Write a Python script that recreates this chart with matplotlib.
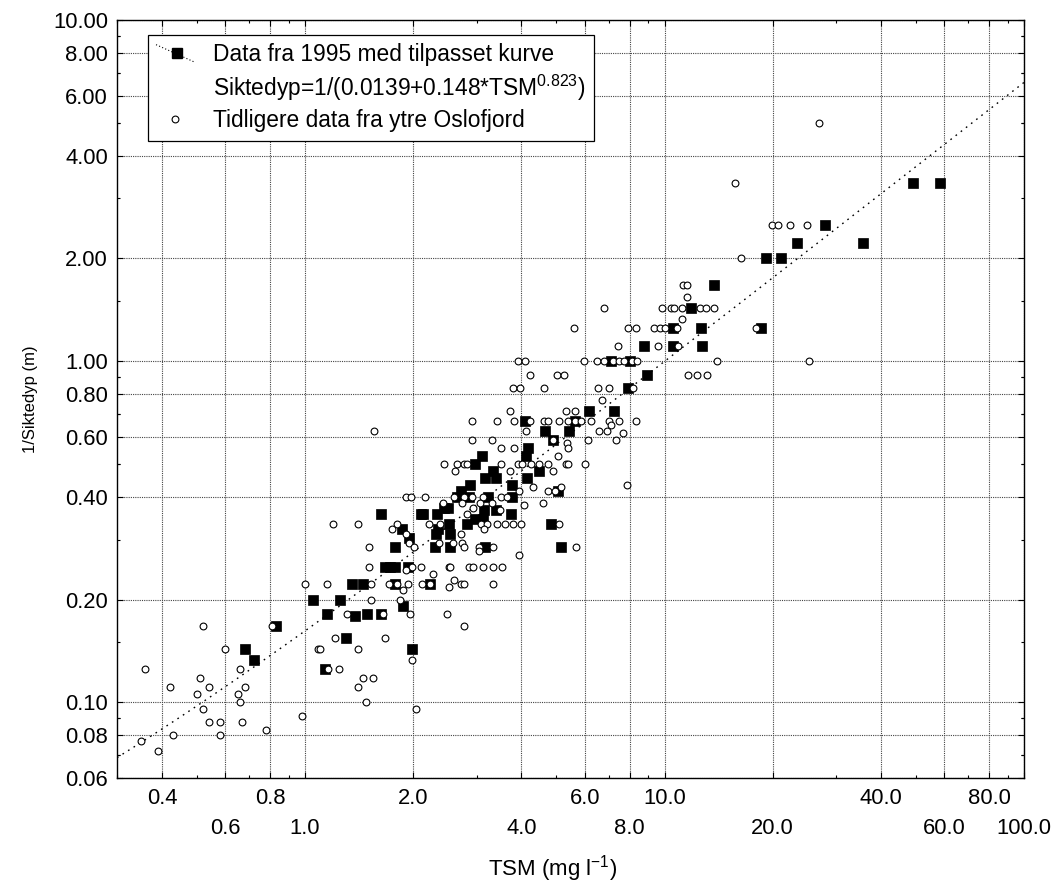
import numpy as np
import matplotlib
matplotlib.use("Agg")
import matplotlib.pyplot as plt
from matplotlib.lines import Line2D
from matplotlib.legend_handler import HandlerBase
from matplotlib.ticker import LogLocator, NullFormatter

plt.rcParams['font.family'] = ['Liberation Sans', 'DejaVu Sans']
plt.rcParams['mathtext.default'] = 'regular'

# ---------------- data ----------------
# 1995 data (filled squares)
tsm_1995 = [
    0.68, 0.72, 0.83,
    1.30, 1.99, 1.14,
    7.90,
    6.18, 7.24,
    4.09, 5.62,
    4.66, 5.44,
    4.90,
    4.18,
    3.11, 4.12,
    2.97,
    4.48, 3.34,
    3.39, 3.17, 4.14,
    3.77, 2.88,
    5.06, 2.71,
    2.64, 2.85, 3.23, 3.76,
    2.43, 2.50,
    1.63, 2.10, 2.13, 2.33, 3.74,
    3.14, 3.39,
    2.52, 4.82, 2.82,
    2.97, 3.12,
    1.86, 2.34,
    2.32, 2.53,
    1.95,
    1.78, 2.30, 2.53, 3.17, 5.15,
    1.67, 1.72, 1.78, 1.94,
    1.35, 1.45, 1.78, 2.23,
    1.055, 1.25,
    1.87,
    1.15, 1.49, 1.63,
    1.38,
    7.10, 8.00, 8.92,
    10.58, 12.63, 18.56,
    8.79, 10.58, 12.74,
    11.85, 13.75,
    49.2, 58.2, 27.9, 23.3, 35.7, 19.1, 21.1,
]
inv_secchi_1995 = [
    0.143, 0.133, 0.167,
    0.154, 0.143, 0.125,
    0.833,
    0.714, 0.714,
    0.667, 0.667,
    0.625, 0.625,
    0.588,
    0.556,
    0.526, 0.526,
    0.500,
    0.476, 0.476,
    0.455, 0.455, 0.455,
    0.435, 0.435,
    0.417, 0.417,
    0.400, 0.400, 0.400, 0.400,
    0.370, 0.370,
    0.357, 0.357, 0.357, 0.357, 0.357,
    0.366, 0.366,
    0.333, 0.333, 0.333,
    0.345, 0.345,
    0.323, 0.323,
    0.3125, 0.3125,
    0.303,
    0.286, 0.286, 0.286, 0.286, 0.286,
    0.250, 0.250, 0.250, 0.250,
    0.222, 0.222, 0.222, 0.222,
    0.200, 0.200,
    0.192,
    0.182, 0.182, 0.182,
    0.179,
    1.00, 1.00, 0.909,
    1.25, 1.25, 1.25,
    1.11, 1.11, 1.11,
    1.43, 1.67,
    3.33, 3.33, 2.50, 2.22, 2.22, 2.00, 2.00,
]

# earlier data from outer Oslofjord (open circles)
tsm_old = [
    0.52, 0.36, 0.60, 0.81, 0.51, 0.66, 0.42, 0.54, 0.68, 0.50, 0.65,
    0.52, 0.66, 0.54, 0.58, 0.67, 0.43, 0.58, 0.78, 0.35, 0.39, 0.98,
    1.21, 1.67, 1.09, 1.10, 1.40, 1.99, 1.16, 1.24, 1.45, 1.55, 1.40,
    1.48, 2.03,
    3.80, 3.97, 4.63, 6.52, 7.03, 8.19,
    6.72,
    3.71, 5.31, 5.62,
    2.91, 3.41, 3.82, 4.23, 4.63, 4.75, 5.09, 5.40, 5.62, 5.87, 6.25, 7.03, 7.45, 8.33,
    7.08,
    1.56, 4.12, 6.59, 6.92,
    7.69,
    2.91, 3.31, 4.90, 6.12, 7.34,
    5.34,
    3.51, 3.82, 5.40,
    5.04,
    2.44, 2.64, 2.76, 2.82, 3.51, 3.92, 4.02, 4.25, 4.48, 4.75, 5.31, 5.40, 6.01,
    2.61, 3.71, 4.90,
    7.87,
    4.30, 5.15,
    3.94, 4.75, 4.95,
    1.91, 1.97, 2.16, 2.59, 2.76, 2.92, 3.12, 3.52, 3.64,
    2.42, 2.73, 3.07, 3.32, 4.60,
    4.07,
    2.94,
    2.82,
    3.49,
    1.20, 1.40, 1.80, 2.21, 2.37, 3.09, 3.21, 3.41, 3.60, 3.80, 4.00, 5.09,
    1.75, 3.14,
    1.91, 2.71,
    1.95, 2.36, 2.58, 2.74,
    1.51, 2.01, 2.76, 3.04, 3.33, 5.68,
    3.04,
    3.94,
    1.51, 1.99, 2.10, 2.52, 2.53, 2.85, 2.94, 3.12, 3.33, 3.54,
    1.91,
    2.27,
    2.60,
    1.00, 1.15, 1.53, 1.71, 1.80, 1.94, 2.11, 2.23, 2.72, 2.76, 3.33,
    2.52,
    1.87,
    1.53, 1.84,
    1.31, 1.65, 1.96, 2.48,
    2.76,
    3.91, 4.09, 5.97, 6.49, 6.80, 7.21, 7.49, 7.73, 8.10, 8.40, 13.97, 25.3,
    4.23, 5.01, 5.27, 11.65, 12.34, 13.15,
    7.41, 9.57, 10.93,
    5.61, 7.93, 8.33, 9.35, 9.70, 10.05, 10.81, 17.97,
    11.21,
    6.80, 9.82, 10.45, 10.64, 11.21, 12.55, 13.08, 13.70,
    11.53,
    11.28, 11.53,
    26.9,
    15.7,
    19.9, 20.7, 22.4, 24.9,
    16.3,
]
inv_secchi_old = [
    0.167, 0.125, 0.143, 0.167, 0.118, 0.125, 0.111, 0.111, 0.111, 0.106, 0.106,
    0.0957, 0.100, 0.0875, 0.0875, 0.0875, 0.080, 0.080, 0.083, 0.077, 0.072, 0.091,
    0.154, 0.154, 0.143, 0.143, 0.143, 0.133, 0.125, 0.125, 0.118, 0.118, 0.111,
    0.100, 0.0957,
    0.833, 0.833, 0.833, 0.833, 0.833, 0.833,
    0.769,
    0.714, 0.714, 0.714,
    0.667, 0.667, 0.667, 0.667, 0.667, 0.667, 0.667, 0.667, 0.667, 0.667, 0.667, 0.667, 0.667, 0.667,
    0.650,
    0.625, 0.625, 0.625, 0.625,
    0.615,
    0.588, 0.588, 0.588, 0.588, 0.588,
    0.575,
    0.556, 0.556, 0.556,
    0.526,
    0.500, 0.500, 0.500, 0.500, 0.500, 0.500, 0.500, 0.500, 0.500, 0.500, 0.500, 0.500, 0.500,
    0.476, 0.476, 0.476,
    0.435,
    0.429, 0.429,
    0.417, 0.417, 0.417,
    0.400, 0.400, 0.400, 0.400, 0.400, 0.400, 0.400, 0.400, 0.400,
    0.385, 0.385, 0.385, 0.385, 0.385,
    0.379,
    0.370,
    0.357,
    0.366,
    0.333, 0.333, 0.333, 0.333, 0.333, 0.333, 0.333, 0.333, 0.333, 0.333, 0.333, 0.333,
    0.323, 0.323,
    0.3125, 0.3125,
    0.294, 0.294, 0.294, 0.294,
    0.286, 0.286, 0.286, 0.286, 0.286, 0.286,
    0.278,
    0.270,
    0.250, 0.250, 0.250, 0.250, 0.250, 0.250, 0.250, 0.250, 0.250, 0.250,
    0.244,
    0.238,
    0.229,
    0.222, 0.222, 0.222, 0.222, 0.222, 0.222, 0.222, 0.222, 0.222, 0.222, 0.222,
    0.218,
    0.214,
    0.200, 0.200,
    0.182, 0.182, 0.182, 0.182,
    0.167,
    1.00, 1.00, 1.00, 1.00, 1.00, 1.00, 1.00, 1.00, 1.00, 1.00, 1.00, 1.00,
    0.909, 0.909, 0.909, 0.909, 0.909, 0.909,
    1.11, 1.11, 1.11,
    1.25, 1.25, 1.25, 1.25, 1.25, 1.25, 1.25, 1.25,
    1.33,
    1.43, 1.43, 1.43, 1.43, 1.43, 1.43, 1.43, 1.43,
    1.54,
    1.67, 1.67,
    5.00,
    3.33,
    2.50, 2.50, 2.50, 2.50,
    2.00,
]

# fitted curve parameters: 1/Siktedyp = a + b*TSM^c
fit_a, fit_b, fit_c = 0.0139, 0.148, 0.823

x_ticks = [0.4, 0.6, 0.8, 1.0, 2.0, 4.0, 6.0, 8.0, 10.0, 20.0, 40.0, 60.0, 80.0, 100.0]
x_tick_labels = ['0.4', '0.6', '0.8', '1.0', '2.0', '4.0', '6.0', '8.0',
                 '10.0', '20.0', '40.0', '60.0', '80.0', '100.0']
y_ticks = [0.06, 0.08, 0.10, 0.20, 0.40, 0.60, 0.80, 1.00, 2.00, 4.00, 6.00, 8.00, 10.00]
y_tick_labels = ['0.06', '0.08', '0.10', '0.20', '0.40', '0.60', '0.80', '1.00',
                 '2.00', '4.00', '6.00', '8.00', '10.00']

legend_labels = ['Data fra 1995 med tilpasset kurve',
                 'Siktedyp=1/(0.0139+0.148*TSM$^{0.823}$)',
                 'Tidligere data fra ytre Oslofjord']

TICK_FS = 15.8
LEG_FS = 16.4

# ---------------- figure ----------------
fig = plt.figure(figsize=(10.57, 8.83), dpi=100)
ax = fig.add_axes([0.1107, 0.1189, 0.8581, 0.8584])
ax.set_xscale('log')
ax.set_yscale('log')
ax.set_xlim(0.3, 100)
ax.set_ylim(0.06, 10)

grid_kw = dict(color='#444444', lw=0.8, ls=(0, (1, 1)), zorder=0)
for xv in x_ticks:
    ax.axvline(xv, **grid_kw)
for yv in y_ticks:
    ax.axhline(yv, **grid_kw)

xfit = np.logspace(np.log10(0.3), np.log10(100), 300)
yfit = fit_a + fit_b * xfit ** fit_c
fit_line, = ax.plot(xfit, yfit, color='black', lw=1.0, ls=(0, (1.2, 3.5)), zorder=2)

sq, = ax.plot(tsm_1995, inv_secchi_1995, ls='none', marker='s', ms=7.0,
              mfc='black', mec='black', mew=0.5, zorder=3)
circ, = ax.plot(tsm_old, inv_secchi_old, ls='none', marker='o', ms=4.9,
                mfc='white', mec='black', mew=0.8, zorder=4)

# ticks: labels alternate between two rows
ax.set_xticks(x_ticks)
ax.set_xticklabels([t if i % 2 == 0 else '' for i, t in enumerate(x_tick_labels)])
xtr = ax.get_xaxis_transform()
for i, (xv, t) in enumerate(zip(x_ticks, x_tick_labels)):
    if i % 2 == 1:
        ax.text(xv, -0.066, t, transform=xtr, ha='center', va='center',
                fontsize=TICK_FS, clip_on=False)
ax.xaxis.set_minor_locator(LogLocator(base=10, subs=np.arange(2, 10) * 1.0))
ax.xaxis.set_minor_formatter(NullFormatter())
ax.set_yticks(y_ticks)
ax.set_yticklabels(y_tick_labels)
ax.yaxis.set_minor_locator(LogLocator(base=10, subs=[0.5, 0.7, 0.9, 1.5, 3.0, 5.0, 7.0, 9.0]))
ax.yaxis.set_minor_formatter(NullFormatter())

ax.tick_params(axis='both', which='both', direction='in', top=True, right=True,
               labelsize=TICK_FS, colors='black', width=0.8)
ax.tick_params(axis='both', which='major', length=4)
ax.tick_params(axis='both', which='minor', length=2.5)
ax.tick_params(axis='x', which='major', pad=7.0)
ax.tick_params(axis='y', which='major', pad=6.5)

for s in ax.spines.values():
    s.set_linewidth(1.0)
    s.set_color('black')

ax.set_xlabel('TSM (mg l$^{-1}$)', fontsize=16.0)
ax.xaxis.label.set_va('center')
ax.xaxis.set_label_coords(0.48, -0.119)
ax.set_ylabel('1/Siktedyp (m)', fontsize=12.0)
ax.yaxis.label.set_va('center')
ax.yaxis.set_label_coords(-0.095, 0.5)


class DiagHandler(HandlerBase):
    def create_artists(self, legend, orig_handle, xdescent, ydescent, width, height, fontsize, trans):
        x0 = -xdescent
        y0 = -ydescent
        ln = Line2D([x0, x0 + width], [y0 + height * 1.05, y0 - height * 0.05],
                    color='black', lw=0.8, ls=(0, (1, 2)), transform=trans)
        mk = Line2D([x0 + width * 0.55], [y0 + height * 0.5], marker='s', ms=7.0,
                    mfc='black', mec='black', ls='none', transform=trans)
        return [ln, mk]


class EmptyHandler(HandlerBase):
    def create_artists(self, legend, orig_handle, xdescent, ydescent, width, height, fontsize, trans):
        ln = Line2D([], [], ls='none', transform=trans)
        return [ln]


blank = Line2D([], [], ls='none')
leg = ax.legend([sq, blank, circ], legend_labels,
                handler_map={sq: DiagHandler(), blank: EmptyHandler()},
                loc='upper left', bbox_to_anchor=(0.034, 0.980), borderaxespad=0,
                fontsize=LEG_FS, frameon=True, fancybox=False, shadow=False,
                edgecolor='black', framealpha=1, borderpad=0.36,
                handlelength=1.7, handletextpad=0.8, labelspacing=0.28)
leg.get_frame().set_linewidth(0.9)

fig.savefig('out.png', dpi=100)
